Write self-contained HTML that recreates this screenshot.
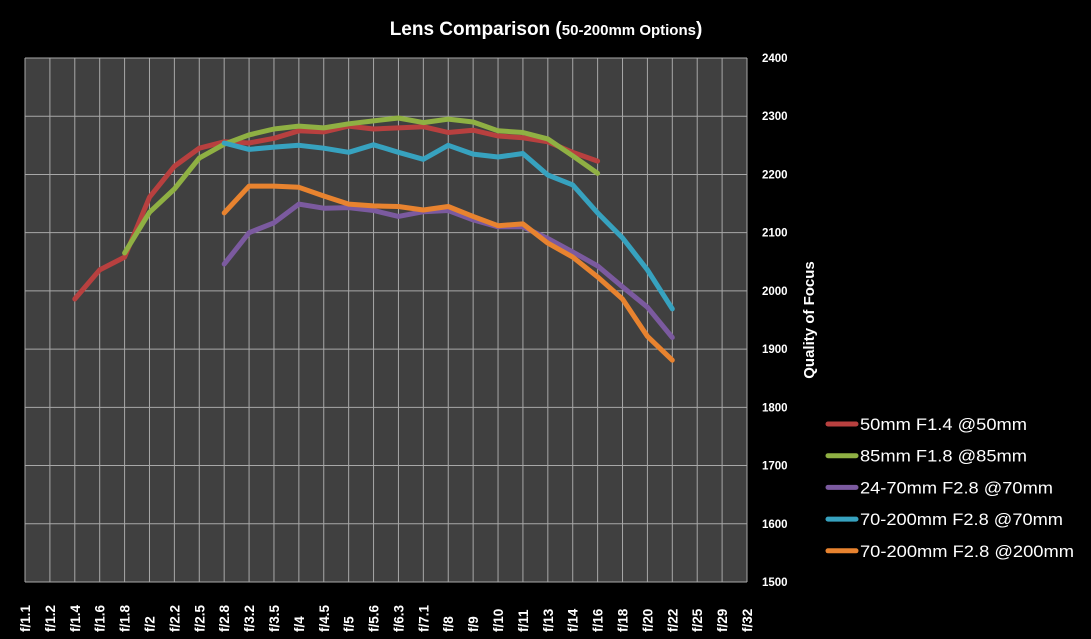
<!DOCTYPE html>
<html><head><meta charset="utf-8"><style>
html,body{margin:0;padding:0;background:#000;}
svg{display:block;font-family:"Liberation Sans",sans-serif;}
</style></head><body>
<svg id="chart" width="1091" height="639" viewBox="0 0 1091 639" xmlns="http://www.w3.org/2000/svg">
<rect x="0" y="0" width="1091" height="639" fill="#000"/>
<text x="546" y="35" text-anchor="middle" fill="#fff" font-weight="bold" font-size="19">Lens Comparison (<tspan font-size="15">50-200mm Options</tspan>)</text>
<rect x="25" y="58" width="722" height="524" fill="#404040"/>
<g id="grid"></g>
<g id="series"></g>
<g id="xlabels"></g>
<g id="ylabels"></g>
<text transform="translate(814,320) rotate(-90)" text-anchor="middle" fill="#fff" font-weight="bold" font-size="15">Quality of Focus</text>
<g id="legend"></g>
</svg>
<script>
const categories = ["f/1.1","f/1.2","f/1.4","f/1.6","f/1.8","f/2","f/2.2","f/2.5","f/2.8","f/3.2","f/3.5","f/4","f/4.5","f/5","f/5.6","f/6.3","f/7.1","f/8","f/9","f/10","f/11","f/13","f/14","f/16","f/18","f/20","f/22","f/25","f/29","f/32"];
const yTicks = [1500,1600,1700,1800,1900,2000,2100,2200,2300,2400];
const seriesNames = ["50mm F1.4 @50mm","85mm F1.8 @85mm","24-70mm F2.8 @70mm","70-200mm F2.8 @70mm","70-200mm F2.8 @200mm"];
const s50 = [null,null,1986,2036,2058,2161,2214,2245,2256,2254,2262,2275,2273,2283,2278,2280,2282,2272,2276,2266,2263,2256,2238,2223,null,null,null,null,null,null];
const s85 = [null,null,null,null,2065,2135,2175,2228,2252,2268,2278,2283,2280,2287,2292,2297,2289,2295,2290,2275,2272,2261,2232,2202,null,null,null,null,null,null];
const s2470 = [null,null,null,null,null,null,null,null,2046,2100,2117,2149,2142,2143,2138,2128,2136,2138,2122,2110,2110,2090,2067,2043,2007,1972,1920,null,null,null];
const s70200w = [null,null,null,null,null,null,null,null,2254,2243,2247,2250,2245,2238,2251,2238,2226,2250,2235,2230,2236,2199,2182,2134,2091,2036,1969,null,null,null];
const s70200t = [null,null,null,null,null,null,null,null,2134,2180,2180,2178,2163,2149,2146,2145,2139,2145,2128,2112,2115,2082,2058,2024,1986,1922,1881,null,null,null];
const allSeries = [s50,s85,s2470,s70200w,s70200t];
const colors = ["#b8403f","#8fb043","#7b5a9f","#37a2bf","#e8832f"];
const legendWidths = [167,167,193,203,214];

const NS="http://www.w3.org/2000/svg";
const X0=25,X1=747,Y0=582,Y1=58,VMIN=1500,VMAX=2400;
const xPos=i=>X0+(X1-X0)*i/(categories.length-1);
const yPos=v=>Y0-(v-VMIN)/(VMAX-VMIN)*(Y0-Y1);
function mk(tag,attrs,parent){const e=document.createElementNS(NS,tag);for(const k in attrs)e.setAttribute(k,attrs[k]);parent.appendChild(e);return e;}

const grid=document.getElementById('grid');
categories.forEach((c,i)=>{
  const l=mk('line',{x1:xPos(i),x2:xPos(i),y1:Y1,y2:Y0,stroke:'#a8a8a8','stroke-width':1},grid);
  
  
});
yTicks.forEach(v=>{
  const l=mk('line',{x1:X0,x2:X1,y1:yPos(v),y2:yPos(v),stroke:'#a8a8a8','stroke-width':1},grid);
  
  
});

const xl=document.getElementById('xlabels');
categories.forEach((c,i)=>{
  const t=mk('text',{transform:`translate(${xPos(i)+5},${632}) rotate(-90)`,fill:'#fff','font-size':13.5,'font-weight':'bold'},xl);
  t.textContent=c;
  
  
});
const yl=document.getElementById('ylabels');
yTicks.forEach(v=>{
  const t=mk('text',{x:762,y:yPos(v)+4,fill:'#fff','font-size':11.5,'font-weight':'bold'},yl);
  t.textContent=v;
  
  
});

const sg=document.getElementById('series');
allSeries.forEach((s,k)=>{
  let d='';
  s.forEach((v,i)=>{if(v!==null){d+=(d?'L':'M')+xPos(i).toFixed(1)+','+yPos(v).toFixed(1);}});
  const p=mk('path',{d:d,fill:'none',stroke:colors[k],'stroke-width':5,'stroke-linejoin':'round','stroke-linecap':'round'},sg);
  
  
});

const lg=document.getElementById('legend');
seriesNames.forEach((n,k)=>{
  const y=424+k*31.7;
  const l=mk('line',{x1:828,x2:856,y1:y,y2:y,stroke:colors[k],'stroke-width':5,'stroke-linecap':'round'},lg);
  
  
  const t=mk('text',{x:860,y:y+6,fill:'#fff','font-size':17,textLength:legendWidths[k],lengthAdjust:'spacingAndGlyphs'},lg);
  t.textContent=n;
  
  
});
</script>
</body></html>
